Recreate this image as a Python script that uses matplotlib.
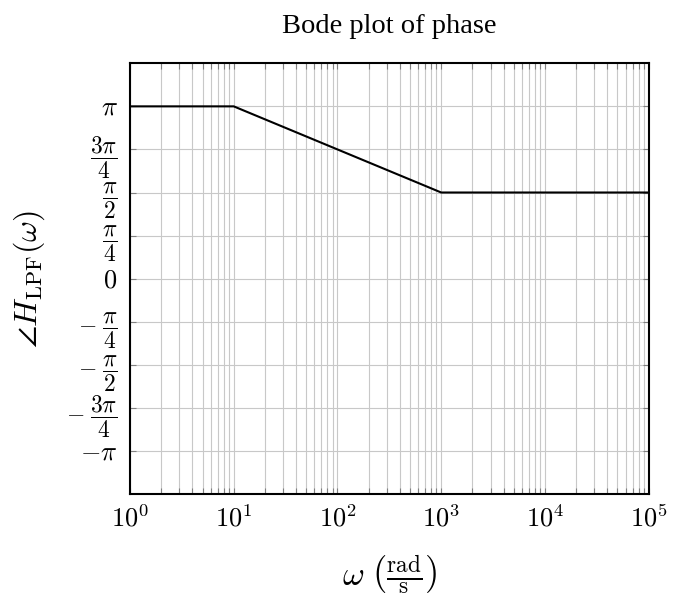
import numpy as np
import matplotlib.pyplot as plt

plt.rcParams['mathtext.fontset'] = 'cm'
plt.rcParams['font.family'] = 'serif'
plt.rcParams['font.serif'] = ['Liberation Serif', 'DejaVu Serif']

# breakpoints of the phase curve
omega = [1, 10, 1000, 1e5]
phase = [np.pi, np.pi, np.pi / 2, np.pi / 2]

ytick_vals = [k * np.pi / 4 for k in range(-4, 5)]
ytick_labels = [r'$-\pi$', r'$-\;\dfrac{3\pi}{4}$', r'$-\;\dfrac{\pi}{2}$', r'$-\;\dfrac{\pi}{4}$', r'$0$',
                r'$\dfrac{\pi}{4}$', r'$\dfrac{\pi}{2}$', r'$\dfrac{3\pi}{4}$', r'$\pi$']
xtick_vals = [1, 10, 100, 1000, 1e4, 1e5]
xtick_labels = [r'$10^{%d}$' % i for i in range(6)]

fig = plt.figure(figsize=(6.75, 6.01), dpi=100)
ax = fig.add_axes([0.1926, 0.178, 0.7684, 0.7167])

ax.plot(omega, phase, color='black', linewidth=1.5, zorder=3)

ax.set_xscale('log')
ax.set_xlim(1, 1e5)
ax.set_ylim(-5 * np.pi / 4, 5 * np.pi / 4)
ax.set_xticks(xtick_vals)
ax.set_xticklabels(xtick_labels, fontsize=19)
ax.set_yticks(ytick_vals)
ax.set_yticklabels(ytick_labels)
for lbl in ax.get_yticklabels():
    lbl.set_fontsize(17 if 'frac' in lbl.get_text() else 19)

ax.grid(True, which='major', color='#c8c8c8', linewidth=0.8)
ax.grid(True, which='minor', axis='x', color='#c8c8c8', linewidth=0.8)
ax.tick_params(which='both', direction='in', top=True, right=True, color='#808080', length=4, width=0.8)
ax.tick_params(axis='x', pad=8)
ax.tick_params(axis='y', pad=9)
for s in ax.spines.values():
    s.set_linewidth(1.5)

ax.set_title('Bode plot of phase', fontsize=20.5, pad=22)
ax.set_xlabel(r'$\omega\ \left(\frac{\mathrm{rad}}{\mathrm{s}}\right)$', fontsize=24)
ax.set_ylabel(r'$\angle H_{\mathrm{LPF}}(\omega)$', fontsize=23)
ax.xaxis.set_label_coords(0.5, -0.138)
ax.yaxis.set_label_coords(-0.16, 0.5)

fig.savefig('out.png', dpi=100)
